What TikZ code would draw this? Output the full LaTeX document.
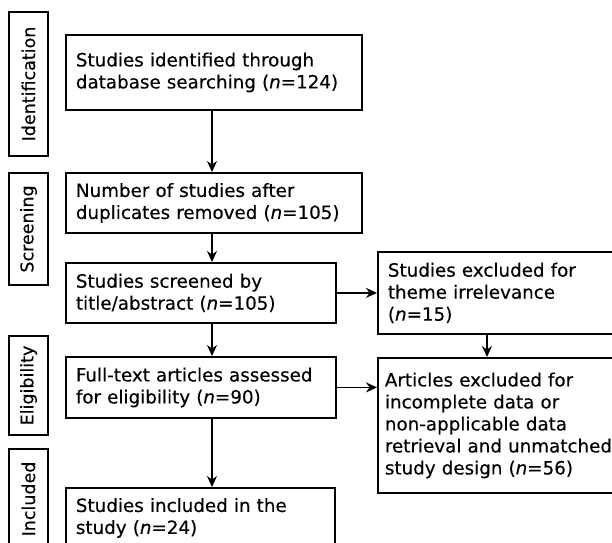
\documentclass[tikz,border=0pt]{standalone}
\usepackage{fontspec}
\setmainfont{DejaVu Sans}[FakeBold=0.35]
\usetikzlibrary{arrows.meta}
\tikzset{
  box/.style={draw=black, line width=1.8pt, anchor=north west, align=left,
    inner xsep=10pt, inner ysep=0pt, font=\fontsize{18.3}{22}\selectfont},
  lab/.style={draw=black, line width=1.8pt, rotate=90, inner sep=0pt,
    minimum height=39pt, font=\fontsize{17.5}{22}\selectfont},
  arr/.style={line width=1.6pt, -{Stealth[length=11pt,width=10pt]}}
}
\begin{document}
\begin{tikzpicture}[x=1pt,y=-1pt]
\useasboundingbox (0,0) rectangle (612,542);
% stage labels
\node[lab, minimum width=144pt] (l1) at (28.5,84) {Identification};
\node[lab, minimum width=112pt] (l2) at (28.5,229) {Screening};
\node[lab, minimum width=99pt] (l3) at (28.5,385.5) {Eligibility};
\node[lab, minimum width=100pt] (l4) at (28.5,499) {Included};
% main column
\node[box, text width=276pt, minimum height=75pt] (b1) at (65,34)
  {Studies identified through\\database searching (\textit{n}=124)};
\node[box, text width=276pt, minimum height=60pt] (b2) at (65,172)
  {Number of studies after\\duplicates removed (\textit{n}=105)};
\node[box, text width=250pt, minimum height=60pt] (b3) at (65,262)
  {Studies screened by\\title/abstract (\textit{n}=105)};
\node[box, text width=250pt, minimum height=61pt] (b4) at (65,356)
  {Full-text articles assessed\\for eligibility (\textit{n}=90)};
\node[box, text width=249pt, minimum height=60pt] (b5) at (65,487)
  {Studies included in the\\study (\textit{n}=24)};
% right column
\node[box, text width=229pt, minimum height=82pt] (b6) at (377,251)
  {Studies excluded for\\theme irrelevance\\(\textit{n}=15)};
\node[box, text width=229pt, minimum height=135pt, inner xsep=7pt] (b7) at (377,357)
  {Articles excluded for\\incomplete data or\\non-applicable data\\retrieval and unmatched\\study design (\textit{n}=56)};
% connectors
\draw[arr] (b1.south -| 212,0) -- (b2.north -| 212,0);
\draw[arr] (b2.south -| 212,0) -- (b3.north -| 212,0);
\draw[arr] (b3.south -| 212,0) -- (b4.north -| 212,0);
\draw[arr] (b4.south -| 212,0) -- (b5.north -| 212,0);
\draw[arr] (b3.east) -- (b6.west |- b3.east);
\draw[arr] (b4.east) -- (b7.west |- b4.east);
\draw[arr] (b6.south -| 487,0) -- (b7.north -| 487,0);
\end{tikzpicture}
\end{document}
